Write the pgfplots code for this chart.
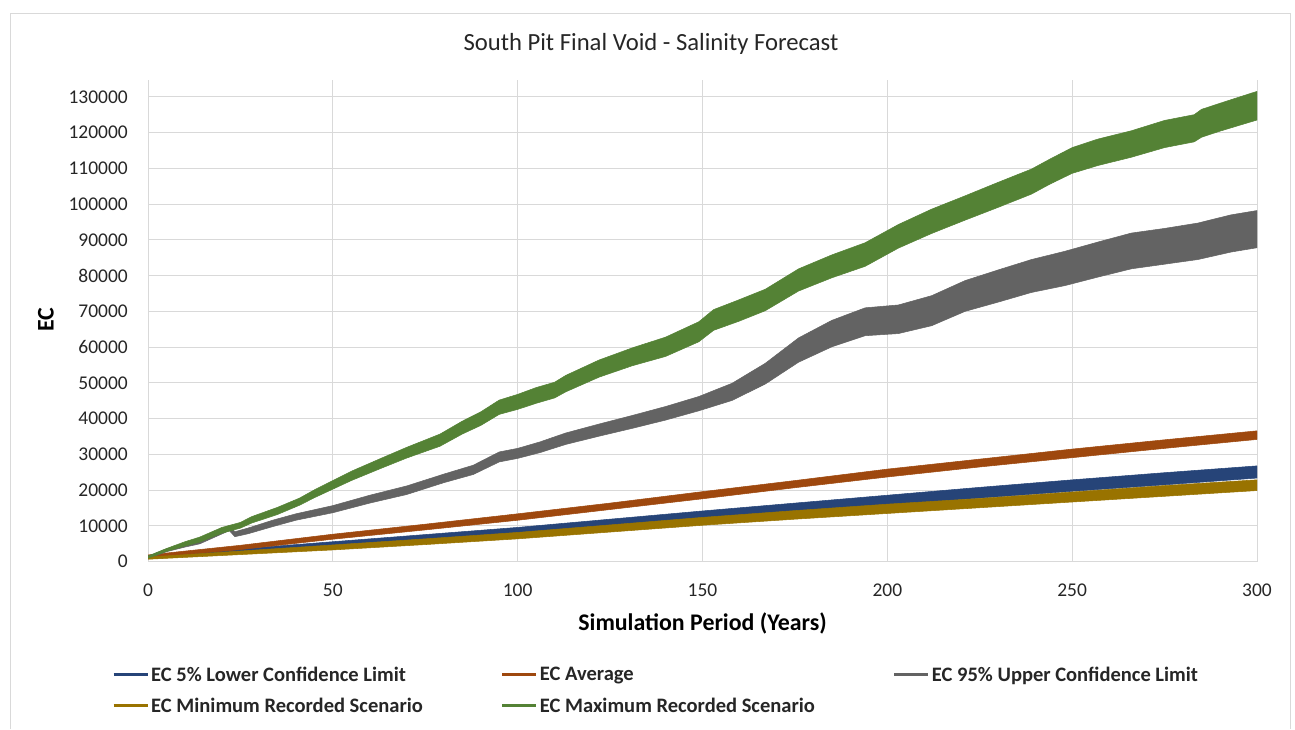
\documentclass[border=0pt]{standalone}
\usepackage{pgfplots}
\pgfplotsset{compat=1.18}
\usepackage{pgfplotstable}
\usepgfplotslibrary{fillbetween}
\usepackage{fontspec}
\setmainfont{Carlito}
\definecolor{cblue}{HTML}{264478}
\definecolor{corange}{HTML}{9E480E}
\definecolor{cgray}{HTML}{636363}
\definecolor{cgold}{HTML}{997300}
\definecolor{cgreen}{HTML}{548235}
\definecolor{cgrid}{HTML}{D9D9D9}

% x = year, c = band centre (thousand EC), h = half width of seasonal band (thousand EC)
\pgfplotstableread{
x c h
0 1.3 0.3
5 3.3 0.4
10 5.0 0.6
14 6.2 0.7
20 8.8 0.8
25 10.2 0.8
28 11.7 0.9
35 14.2 1.0
41 16.8 1.0
45 19.0 1.1
50 21.5 1.2
55 24.0 1.3
63 27.5 1.4
70 30.5 1.5
79 34.0 1.7
85 37.5 1.8
90 40.0 1.9
95 43.2 2.0
100 44.7 2.1
105 46.5 2.2
110 48.0 2.2
113 49.8 2.3
122 54.0 2.4
131 57.3 2.5
140 60.1 2.7
149 64.3 2.8
153 67.6 2.9
160 70.3 3.0
167 73.2 3.0
176 78.8 3.1
185 82.6 3.2
194 85.9 3.3
203 91.0 3.3
212 95.2 3.4
221 98.9 3.4
230 102.6 3.5
239 106.3 3.5
244 109.1 3.5
250 112.2 3.6
257 114.5 3.7
266 116.8 3.7
275 119.6 3.8
283 121.2 3.8
285 122.6 3.9
290 124.3 3.9
299 127.2 4.0
300 127.5 4.0
}\tmax

\pgfplotstableread{
x c h
0 1.2 0.3
5 3.2 0.4
10 4.6 0.5
14 5.6 0.6
22 9.4 0.7
23.5 7.7 0.7
27 8.6 0.8
34 10.8 0.9
40 12.5 0.9
50 14.7 1.0
60 17.5 1.1
70 20.0 1.2
80 23.3 1.2
88 25.7 1.3
95 29.3 1.4
100 30.3 1.4
106 32.0 1.5
113 34.4 1.6
122 36.8 1.7
131 39.1 1.8
140 41.5 1.9
149 44.2 2.0
158 47.5 2.4
167 52.6 2.9
176 59.2 3.4
185 63.8 3.7
194 67.1 3.9
203 67.8 4.0
212 70.2 4.2
221 74.3 4.3
230 77.1 4.5
239 79.9 4.6
248 82.0 4.8
257 84.5 4.9
266 86.9 5.0
275 88.2 5.0
284 89.6 5.1
293 91.8 5.2
300 93.0 5.2
}\tupper

\pgfplotstableread{
x c h
0 1.5 0.4
25 4.0 0.6
50 7.0 0.7
75 9.7 0.8
100 12.5 0.9
125 15.5 0.9
150 18.6 1.0
175 21.7 1.0
200 24.8 1.1
225 27.6 1.1
250 30.3 1.2
275 32.9 1.2
300 35.4 1.2
}\tavg

\pgfplotstableread{
x c h
0 1.2 0.4
25 3.0 0.6
50 4.8 0.8
75 6.7 0.9
100 8.6 1.0
125 10.8 1.1
150 13.0 1.2
175 15.1 1.3
200 17.2 1.4
225 19.3 1.5
250 21.3 1.6
275 23.2 1.7
300 25.1 1.7
}\tlower

\pgfplotstableread{
x c h
0 1.0 0.3
25 2.5 0.5
50 4.0 0.7
75 5.6 0.8
100 7.3 0.9
125 9.3 1.0
150 11.3 1.1
175 13.1 1.2
200 14.8 1.3
225 16.4 1.3
250 18.1 1.4
275 19.8 1.5
300 21.4 1.5
}\tmin

\begin{document}
\begin{tikzpicture}
\draw[cgrid, line width=0.75pt] (7.5pt,-546.75pt) -- (7.5pt,-9.75pt) -- (967.5pt,-9.75pt) -- (967.5pt,-546.75pt);

\begin{axis}[
  at={(111pt,-60pt)}, anchor=north west,
  scale only axis, width=831.75pt, height=361.3pt,
  xmin=0, xmax=300, ymin=0, ymax=134700,
  xtick={0,50,...,300}, ytick={0,10000,...,130000},
  scaled y ticks=false, scaled x ticks=false,
  xticklabel style={/pgf/number format/fixed, /pgf/number format/precision=0, /pgf/number format/1000 sep={}, /pgf/number format/assume math mode=true},
  yticklabel style={/pgf/number format/fixed, /pgf/number format/precision=0, /pgf/number format/1000 sep={}, /pgf/number format/assume math mode=true},
  grid=major, major grid style={cgrid, line width=0.75pt},
  axis line style={draw=none},
  major tick length=0pt,
  tick label style={font=\fontsize{14.6}{17}\selectfont, text=black!85},
  xticklabel style={anchor=north, inner sep=0pt, yshift=-16.5pt},
  yticklabel style={anchor=east, inner sep=0pt, xshift=-15pt},
  legend columns=3,
  legend style={at={(-0.0325,-0.213)}, anchor=north west, draw=none, fill=none,
    inner sep=0pt, row sep=8pt,
    font=\fontsize{15.4}{18}\selectfont\bfseries,
    nodes={inner sep=1.5pt, text=black!85},
    /tikz/every even column/.append style={column sep=57pt}},
  legend cell align=left,
  legend image code/.code={\draw[#1] (0pt,0pt) -- (25.5pt,0pt);},
]
\addplot[name path=lU, draw=none, forget plot] table[x=x, y expr=(\thisrow{c}+\thisrow{h})*1000] {\tlower};
\addplot[name path=lL, draw=none, forget plot] table[x=x, y expr=(\thisrow{c}-\thisrow{h})*1000] {\tlower};
\addplot[fill=cblue, draw=cblue, line width=0.4pt, forget plot] fill between[of=lU and lL];

\addplot[name path=aU, draw=none, forget plot] table[x=x, y expr=(\thisrow{c}+\thisrow{h})*1000] {\tavg};
\addplot[name path=aL, draw=none, forget plot] table[x=x, y expr=(\thisrow{c}-\thisrow{h})*1000] {\tavg};
\addplot[fill=corange, draw=corange, line width=0.4pt, forget plot] fill between[of=aU and aL];

\addplot[name path=uU, draw=none, forget plot] table[x=x, y expr=(\thisrow{c}+\thisrow{h})*1000] {\tupper};
\addplot[name path=uL, draw=none, forget plot] table[x=x, y expr=(\thisrow{c}-\thisrow{h})*1000] {\tupper};
\addplot[fill=cgray, draw=cgray, line width=0.4pt, forget plot] fill between[of=uU and uL];

\addplot[name path=nU, draw=none, forget plot] table[x=x, y expr=(\thisrow{c}+\thisrow{h})*1000] {\tmin};
\addplot[name path=nL, draw=none, forget plot] table[x=x, y expr=(\thisrow{c}-\thisrow{h})*1000] {\tmin};
\addplot[fill=cgold, draw=cgold, line width=0.4pt, forget plot] fill between[of=nU and nL];

\addplot[name path=mU, draw=none, forget plot] table[x=x, y expr=(\thisrow{c}+\thisrow{h})*1000] {\tmax};
\addplot[name path=mL, draw=none, forget plot] table[x=x, y expr=(\thisrow{c}-\thisrow{h})*1000] {\tmax};
\addplot[fill=cgreen, draw=cgreen, line width=0.4pt, forget plot] fill between[of=mU and mL];

\addlegendimage{cblue, line width=2.25pt}
\addlegendentry{EC 5\% Lower Confidence Limit}
\addlegendimage{corange, line width=2.25pt}
\addlegendentry{EC Average}
\addlegendimage{cgray, line width=2.25pt}
\addlegendentry{EC 95\% Upper Confidence Limit}
\addlegendimage{cgold, line width=2.25pt}
\addlegendentry{EC Minimum Recorded Scenario}
\addlegendimage{cgreen, line width=2.25pt}
\addlegendentry{EC Maximum Recorded Scenario}
\end{axis}

\node[anchor=base, font=\fontsize{18.5}{22}\selectfont, text=black!85] at (488.25pt,-37.5pt) {South Pit Final Void - Salinity Forecast};
\node[anchor=base, font=\fontsize{17.9}{21}\selectfont\bfseries] at (526.9pt,-472.5pt) {Simulation Period (Years)};
\node[rotate=90, anchor=center, font=\fontsize{17.9}{21}\selectfont\bfseries] at (34.5pt,-240pt) {EC};
\pgfresetboundingbox
\path[use as bounding box] (0pt,0pt) rectangle (971.25pt,-546.75pt);
\end{tikzpicture}
\end{document}
